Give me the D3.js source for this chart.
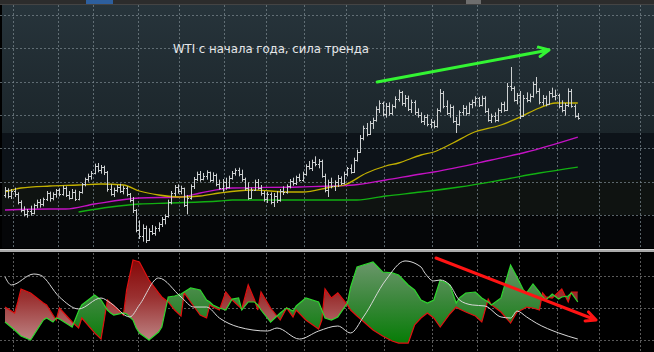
<!DOCTYPE html>
<html>
<head>
<meta charset="utf-8">
<script src="https://cdn.jsdelivr.net/npm/d3@7"></script>
<style>
  html, body { margin: 0; padding: 0; background: #000; overflow: hidden; }
  svg { display: block; }
</style>
</head>
<body>
<div id="chart"></div>
<script>
// daily OHLC, bar index 0..179
const opens = [
  93.0, 93.8, 92.9, 93.6, 93.1, 91.9, 90.7, 90.2, 90.6, 90.3,
  91.5, 92.0, 91.6, 92.4, 93.3, 92.5, 93.1, 93.7, 93.2, 94.1,
  93.0, 92.6, 93.5, 92.4, 93.4, 94.6, 95.4, 95.8, 96.3, 97.4,
  96.7, 97.2, 96.4, 93.9, 93.2, 93.8, 94.2, 93.6, 94.0, 93.1,
  92.2, 90.7, 87.8, 86.9, 88.1, 86.3, 87.6, 87.3, 88.0, 88.6,
  89.4, 89.8, 91.9, 93.3, 94.2, 93.6, 94.0, 91.5, 92.6, 94.3,
  95.4, 96.1, 95.4, 95.9, 96.4, 95.3, 96.0, 94.7, 94.1, 95.0,
  94.2, 95.6, 96.3, 96.7, 96.1, 95.4, 94.0, 92.6, 93.8, 95.0,
  94.1, 93.3, 92.4, 93.1, 91.9, 92.9, 92.2, 93.6, 93.4, 94.3,
  95.1, 94.8, 95.7, 95.3, 96.2, 97.3, 97.0, 98.0, 97.6, 98.1,
  95.9, 93.8, 95.0, 94.3, 94.9, 95.6, 94.8, 96.2, 97.0, 96.5,
  98.3, 99.5, 101.6, 103.1, 102.2, 103.8, 104.2, 105.9, 106.8, 105.2,
  106.4, 105.3, 106.3, 107.4, 108.4, 106.8, 107.6, 105.9, 106.9, 105.4,
  105.0, 104.1, 104.7, 103.6, 104.0, 103.3, 105.7, 108.3, 106.4, 105.3,
  106.2, 104.1, 103.7, 105.4, 106.1, 105.3, 106.6, 106.9, 107.5, 106.5,
  107.6, 105.6, 104.3, 104.9, 104.2, 105.7, 106.6, 105.8, 109.4, 109.0,
  107.3, 108.0, 104.9, 107.6, 107.2, 107.9, 109.7, 108.6, 106.9, 107.6,
  106.7, 108.3, 107.9, 108.0, 106.4, 105.8, 106.5, 108.6, 106.4, 104.9
];
const highs = [
  94.2, 94.0, 93.9, 94.1, 93.4, 92.2, 91.3, 90.9, 91.4, 91.7,
  92.3, 92.4, 92.6, 93.6, 93.5, 93.4, 93.9, 94.0, 94.4, 94.3,
  93.6, 93.9, 93.8, 93.6, 94.8, 95.6, 96.2, 96.6, 97.7, 97.8,
  97.5, 97.4, 96.6, 94.6, 94.1, 94.5, 94.7, 94.4, 94.3, 93.3,
  92.7, 90.9, 89.2, 88.6, 88.4, 88.0, 88.5, 88.3, 88.9, 89.7,
  90.1, 92.3, 93.6, 94.5, 94.6, 94.4, 94.1, 93.0, 94.6, 95.7,
  96.5, 96.6, 96.3, 96.7, 96.5, 96.4, 96.2, 95.3, 95.4, 95.6,
  95.9, 96.6, 97.0, 97.1, 96.8, 95.6, 94.9, 94.1, 95.3, 95.4,
  94.5, 93.6, 93.5, 93.4, 93.3, 93.6, 93.9, 94.3, 94.6, 95.4,
  95.6, 95.9, 96.2, 96.5, 97.6, 98.1, 98.3, 98.8, 98.4, 98.3,
  96.2, 95.3, 95.6, 95.2, 96.0, 95.8, 96.5, 97.2, 97.6, 98.6,
  99.8, 102.0, 103.4, 103.8, 104.1, 104.6, 106.3, 107.2, 107.0, 106.8,
  106.9, 106.6, 107.8, 108.8, 108.6, 108.0, 107.9, 107.3, 107.2, 106.0,
  105.4, 105.0, 105.1, 104.4, 104.2, 106.0, 108.9, 108.6, 107.2, 106.6,
  106.4, 104.7, 105.7, 106.5, 106.4, 106.9, 107.3, 107.8, 107.7, 107.9,
  107.8, 106.0, 105.2, 105.4, 106.0, 106.9, 107.0, 109.8, 112.2, 109.3,
  108.3, 108.6, 108.0, 108.4, 108.2, 110.0, 110.7, 109.0, 108.0, 107.9,
  108.6, 109.1, 108.8, 108.2, 107.2, 106.8, 109.0, 108.9, 106.6, 105.3
];
const lows = [
  92.6, 92.5, 92.4, 92.7, 91.6, 90.4, 89.8, 89.6, 89.9, 90.1,
  91.0, 91.1, 91.3, 92.1, 92.0, 92.2, 92.6, 92.8, 92.9, 92.7,
  92.3, 92.4, 92.1, 92.2, 93.2, 94.3, 95.0, 95.3, 96.1, 96.4,
  96.2, 96.0, 93.5, 92.9, 92.7, 93.4, 93.3, 93.1, 92.8, 91.9,
  90.3, 87.4, 86.4, 86.0, 85.8, 86.1, 87.0, 86.9, 87.5, 88.2,
  88.6, 89.6, 91.6, 92.8, 93.2, 93.1, 91.2, 90.1, 92.3, 93.9,
  95.1, 95.0, 95.2, 95.3, 94.9, 95.0, 94.3, 93.8, 93.5, 93.8,
  94.0, 95.3, 95.9, 95.8, 95.0, 93.7, 92.3, 92.4, 93.6, 93.8,
  92.9, 92.0, 91.8, 91.6, 91.2, 91.8, 92.0, 93.0, 93.2, 94.0,
  94.4, 94.5, 95.0, 95.0, 95.9, 96.8, 96.6, 97.3, 97.0, 95.6,
  93.4, 92.7, 94.0, 93.6, 94.2, 94.5, 94.6, 95.8, 96.2, 96.3,
  98.0, 99.3, 101.2, 101.8, 102.0, 102.9, 104.0, 105.3, 104.8, 104.6,
  104.9, 105.0, 106.0, 107.0, 106.4, 106.2, 105.6, 105.3, 105.0, 104.6,
  103.8, 103.5, 103.3, 103.0, 103.0, 103.1, 105.4, 106.0, 105.0, 104.6,
  103.8, 102.3, 103.4, 104.9, 104.9, 105.1, 106.0, 106.3, 106.2, 106.3,
  105.3, 104.0, 103.8, 103.9, 104.0, 105.3, 105.5, 105.6, 108.6, 107.0,
  106.6, 104.4, 104.7, 106.9, 106.9, 107.6, 108.2, 106.6, 106.4, 106.3,
  106.5, 107.6, 107.2, 106.0, 105.4, 104.9, 106.2, 106.1, 104.6, 104.3
];
const closes = [
  93.8, 92.9, 93.6, 93.1, 91.9, 90.7, 90.2, 90.6, 90.3, 91.5,
  92.0, 91.6, 92.4, 93.3, 92.5, 93.1, 93.7, 93.2, 94.1, 93.0,
  92.6, 93.5, 92.4, 93.4, 94.6, 95.4, 95.8, 96.3, 97.4, 96.7,
  97.2, 96.4, 93.9, 93.2, 93.8, 94.2, 93.6, 94.0, 93.1, 92.2,
  90.7, 87.8, 86.9, 88.1, 86.3, 87.6, 87.3, 88.0, 88.6, 89.4,
  89.8, 91.9, 93.3, 94.2, 93.6, 94.0, 91.5, 92.6, 94.3, 95.4,
  96.1, 95.4, 95.9, 96.4, 95.3, 96.0, 94.7, 94.1, 95.0, 94.2,
  95.6, 96.3, 96.7, 96.1, 95.4, 94.0, 92.6, 93.8, 95.0, 94.1,
  93.3, 92.4, 93.1, 91.9, 92.9, 92.2, 93.6, 93.4, 94.3, 95.1,
  94.8, 95.7, 95.3, 96.2, 97.3, 97.0, 98.0, 97.6, 98.1, 95.9,
  93.8, 95.0, 94.3, 94.9, 95.6, 94.8, 96.2, 97.0, 96.5, 98.3,
  99.5, 101.6, 103.1, 102.2, 103.8, 104.2, 105.9, 106.8, 105.2, 106.4,
  105.3, 106.3, 107.4, 108.4, 106.8, 107.6, 105.9, 106.9, 105.4, 105.0,
  104.1, 104.7, 103.6, 104.0, 103.3, 105.7, 108.3, 106.4, 105.3, 106.2,
  104.1, 103.7, 105.4, 106.1, 105.3, 106.6, 106.9, 107.5, 106.5, 107.6,
  105.6, 104.3, 104.9, 104.2, 105.7, 106.6, 105.8, 109.4, 109.0, 107.3,
  108.0, 104.9, 107.6, 107.2, 107.9, 109.7, 108.6, 106.9, 107.6, 106.7,
  108.3, 107.9, 108.0, 106.4, 105.8, 106.5, 108.6, 106.4, 104.9, 104.6
];

// moving averages, read at bar indices
const maShortIdx = [0, 5, 14, 23, 30, 37, 42, 48, 55, 61, 67, 77, 89, 93, 102, 106, 113, 119, 123, 130, 134, 140, 146, 155, 161, 167, 172, 179];
const maShort    = [93.45, 94.05, 94.35, 94.5, 94.65, 94.5, 93.6, 93.0, 92.7, 92.85, 93.3, 93.75, 93.45, 93.45, 94.2, 94.5, 96.3, 97.35, 97.8, 99.0, 99.45, 100.8, 102.3, 103.5, 104.7, 106.05, 106.8, 106.8];
const maMidIdx = [0, 14, 19, 28, 42, 55, 61, 71, 92, 109, 119, 130, 134, 152, 163, 179];
const maMid    = [90.75, 90.9, 90.9, 91.65, 92.55, 92.7, 93.3, 94.05, 94.2, 94.5, 95.25, 96.15, 96.45, 98.25, 99.45, 101.7];
const maLongIdx = [23, 33, 42, 51, 67, 71, 110, 119, 130, 142, 155, 167, 179];
const maLong    = [90.45, 91.2, 91.65, 91.8, 92.1, 92.25, 92.25, 92.85, 93.45, 94.2, 95.25, 96.3, 97.2];

// directional movement: +DI, -DI at shared indices, ADX separately
const dmiIdx  = [0, 3, 4, 5, 8, 12, 13, 15, 16, 17, 21, 23, 24, 28, 30, 31, 32, 33, 34, 37, 38, 40, 41, 42, 45, 48, 49, 51, 53, 55, 56, 58, 61, 63, 64, 65, 67, 69, 71, 73, 74, 76, 78, 79, 80, 83, 86, 88, 90, 91, 94, 98, 99, 100, 102, 104, 107, 108, 110, 115, 118, 121, 123, 126, 128, 130, 132, 134, 136, 139, 141, 142, 144, 147, 149, 151, 152, 155, 158, 160, 162, 163, 165, 167, 168, 169, 171, 173, 174, 176, 177, 179];
const plusDI  = [21.25, 16.25, 14.4, 12.5, 10.0, 22.5, 23.75, 21.25, 23.75, 23.1, 18.1, 28.1, 31.9, 38.1, 35.0, 31.9, 28.75, 26.9, 25.6, 26.9, 26.25, 22.5, 17.5, 14.4, 10.0, 15.0, 18.1, 36.9, 37.5, 38.75, 40.0, 42.5, 41.25, 35.0, 33.75, 31.9, 30.0, 28.75, 35.6, 36.25, 28.75, 33.75, 33.75, 31.9, 28.75, 21.25, 26.9, 30.0, 28.1, 31.25, 36.25, 33.75, 28.75, 23.75, 22.5, 24.4, 33.1, 43.1, 55.6, 58.75, 52.5, 51.9, 50.6, 44.4, 41.25, 35.0, 33.1, 35.0, 47.5, 44.4, 33.1, 36.25, 39.4, 40.0, 36.25, 33.75, 31.9, 36.25, 56.9, 49.4, 41.25, 39.4, 45.0, 40.0, 36.9, 35.0, 38.75, 35.6, 36.9, 37.5, 39.4, 33.75];
const minusDI = [30.6, 26.9, 33.75, 41.9, 39.4, 33.1, 31.9, 25.6, 22.5, 30.0, 21.25, 17.5, 23.75, 14.4, 10.6, 22.5, 35.0, 33.1, 31.25, 25.6, 41.25, 60.0, 59.4, 58.75, 47.5, 39.4, 36.9, 33.75, 28.75, 25.0, 39.4, 33.75, 25.6, 23.75, 31.9, 30.6, 28.75, 40.0, 35.0, 31.25, 29.4, 44.4, 35.0, 28.75, 40.0, 30.0, 22.5, 30.0, 24.4, 28.75, 22.5, 16.9, 22.5, 41.9, 36.25, 39.4, 31.9, 28.75, 25.0, 16.25, 12.5, 9.4, 8.1, 8.1, 19.4, 23.75, 26.9, 23.75, 18.1, 26.25, 30.6, 29.4, 27.5, 25.0, 21.25, 35.6, 31.9, 27.5, 20.6, 27.5, 29.4, 30.6, 30.0, 28.75, 39.4, 36.9, 36.25, 40.0, 41.9, 33.75, 40.0, 40.0];
const adxIdx = [0, 2, 9, 11, 17, 23, 30, 33, 39, 42, 48, 55, 59, 63, 67, 73, 82, 85, 92, 98, 104, 108, 112, 119, 125, 130, 131, 134, 136, 139, 142, 146, 150, 155, 158, 160, 163, 166, 173, 179];
const adx    = [49.4, 44.4, 51.25, 50.6, 36.9, 29.4, 36.25, 33.1, 24.4, 31.9, 48.75, 36.9, 30.6, 30.6, 23.75, 18.1, 15.6, 17.5, 10.6, 15.6, 18.75, 14.4, 24.4, 47.5, 59.4, 55.6, 52.5, 46.9, 47.5, 44.4, 35.0, 31.9, 31.25, 24.4, 23.75, 28.1, 24.4, 20.6, 14.4, 10.6];

// grid positions (bar index) and levels
const gridIdx = [2.5, 16.5, 27.5, 41.5, 54.5, 68.5, 81.5, 93.5, 106.5, 118.5, 133.5, 147.5, 160.5, 172.5, 185.5, 198.5];
const priceGrid = [90, 95, 100, 105, 110, 115, 120];
const dmiGrid = [10, 30, 50];

// annotation arrows: [index, value] start / end
const upArrow = [[116.3, 109.95], [170, 114.75]];
const downArrow = [[134.7, 61.25], [184.7, 22.5]];
const title = "WTI с начала года, сила тренда";

const W = 654, H = 352;
const top0 = 4, top1 = 248, bot0 = 253, bot1 = 352;

const svg = d3.select("#chart").append("svg")
  .attr("width", W).attr("height", H);

const defs = svg.append("defs");
const grad = (id, y1, y2, stops) => {
  const lg = defs.append("linearGradient").attr("id", id)
    .attr("gradientUnits", "userSpaceOnUse")
    .attr("x1", 0).attr("x2", 0).attr("y1", y1).attr("y2", y2);
  stops.forEach(([o, c]) => lg.append("stop").attr("offset", o).attr("stop-color", c));
};
grad("bgTop", top0, 133, [[0, "#27343b"], [1, "#1b252a"]]);
grad("redFill", 258, 345, [[0, "#850505"], [0.45, "#9a3030"], [1, "#c08c8c"]]);
grad("greenFill", 258, 345, [[0, "#6f986f"], [0.5, "#3a873a"], [1, "#047c04"]]);

// background bands
svg.append("rect").attr("width", W).attr("height", H).attr("fill", "#000");
svg.append("rect").attr("x", 0).attr("y", top0).attr("width", W).attr("height", 133 - top0).attr("fill", "url(#bgTop)");
svg.append("rect").attr("x", 0).attr("y", 133).attr("width", W).attr("height", 47).attr("fill", "#0d1319");
svg.append("rect").attr("x", 0).attr("y", 180).attr("width", W).attr("height", 35).attr("fill", "#0f1311");
svg.append("rect").attr("x", 0).attr("y", 215).attr("width", W).attr("height", top1 - 215).attr("fill", "#050608");
svg.append("rect").attr("x", 0).attr("y", top0).attr("width", 2).attr("height", top1 - top0).attr("fill", "#000");

// toolbar strip
svg.append("rect").attr("x", 0).attr("y", 0).attr("width", W).attr("height", 4).attr("fill", "#2c2c2c");
svg.append("rect").attr("x", 86).attr("y", 0).attr("width", 27).attr("height", 4).attr("fill", "#2d5f9e");
svg.append("rect").attr("x", 466).attr("y", 0).attr("width", 15).attr("height", 4).attr("fill", "#6e6e6e");
svg.append("line").attr("x1", 0).attr("x2", W).attr("y1", 4.5).attr("y2", 4.5).attr("stroke", "#444");

// scales
const x = d3.scaleLinear().domain([-1.5625, 202.8125]).range([0, W]);
const y = d3.scaleLinear().domain([85.05, 121.65]).range([top1, top0]);
const yv = d3.scaleLinear().domain([2.5, 64.375]).range([bot1, bot0]);

// grids
const grid = svg.append("g").attr("stroke-dasharray", "2,2").attr("stroke-width", 1);
grid.selectAll("line.hp").data(priceGrid).join("line").attr("class", "hp")
  .attr("x1", 0).attr("x2", W)
  .attr("y1", d => Math.round(y(d)) + 0.5).attr("y2", d => Math.round(y(d)) + 0.5)
  .attr("stroke", "#75838a").attr("stroke-opacity", 0.75);
grid.selectAll("line.hd").data(dmiGrid).join("line").attr("class", "hd")
  .attr("x1", 0).attr("x2", W)
  .attr("y1", d => Math.round(yv(d)) + 0.5).attr("y2", d => Math.round(yv(d)) + 0.5)
  .attr("stroke", "#707070").attr("stroke-opacity", 0.8);
grid.selectAll("line.vt").data(gridIdx).join("line").attr("class", "vt")
  .attr("x1", d => Math.round(x(d)) + 0.5).attr("x2", d => Math.round(x(d)) + 0.5)
  .attr("y1", top0 + 1).attr("y2", top1)
  .attr("stroke", "#75838a").attr("stroke-opacity", 0.75);
grid.selectAll("line.vb").data(gridIdx).join("line").attr("class", "vb")
  .attr("x1", d => Math.round(x(d)) + 0.5).attr("x2", d => Math.round(x(d)) + 0.5)
  .attr("y1", bot0).attr("y2", bot1)
  .attr("stroke", "#707070").attr("stroke-opacity", 0.8);

// moving averages
const maLine = d3.line().x(d => x(d[0])).y(d => y(d[1])).curve(d3.curveMonotoneX);
const mas = [
  [maLongIdx, maLong, "#12b012"],
  [maMidIdx, maMid, "#c412c4"],
  [maShortIdx, maShort, "#c2b000"]
];
mas.forEach(([idx, vals, col]) => {
  svg.append("path")
    .attr("d", maLine(idx.map((d, k) => [d, vals[k]])))
    .attr("fill", "none").attr("stroke", col).attr("stroke-width", 1.3);
});

// OHLC bars
svg.append("g").attr("stroke", "#cdd0d1").attr("stroke-width", 1).attr("fill", "none")
  .selectAll("path").data(d3.range(closes.length)).join("path")
  .attr("d", i => {
    const cx = Math.round(x(i)) + 0.5;
    const yo = Math.round(y(opens[i])) + 0.5, yc = Math.round(y(closes[i])) + 0.5;
    return `M${cx},${y(highs[i])}V${y(lows[i])}M${cx - 1.5},${yo}H${cx}M${cx},${yc}H${cx + 1.5}`;
  });

// divider between panels
svg.append("rect").attr("x", 0).attr("y", 249).attr("width", W).attr("height", 3).attr("fill", "#a9a9a9");
svg.append("line").attr("x1", 0).attr("x2", W).attr("y1", 249.5).attr("y2", 249.5).attr("stroke", "#d0d0d0");

// DMI panel
const dmi = dmiIdx.map((d, k) => ({ i: d, p: plusDI[k], m: minusDI[k] }));
const band = d3.area().x(d => x(d.i)).y0(d => yv(d.m)).y1(d => yv(d.p));
const belowP = d3.area().x(d => x(d.i)).y0(bot1 + 5).y1(d => yv(d.p));
const belowM = d3.area().x(d => x(d.i)).y0(bot1 + 5).y1(d => yv(d.m));
defs.append("clipPath").attr("id", "clipP").append("path").attr("d", belowP(dmi));
defs.append("clipPath").attr("id", "clipM").append("path").attr("d", belowM(dmi));

svg.append("path").attr("d", band(dmi)).attr("fill", "url(#greenFill)").attr("clip-path", "url(#clipP)");
svg.append("path").attr("d", band(dmi)).attr("fill", "url(#redFill)").attr("clip-path", "url(#clipM)");

svg.append("path").attr("d", d3.line().x(d => x(d.i)).y(d => yv(d.m))(dmi))
  .attr("fill", "none").attr("stroke", "#e01010").attr("stroke-width", 1.2);
svg.append("path").attr("d", d3.line().x(d => x(d.i)).y(d => yv(d.p))(dmi))
  .attr("fill", "none").attr("stroke", "#2ed62e").attr("stroke-width", 1.2);
svg.append("path")
  .attr("d", d3.line().x(d => x(d[0])).y(d => yv(d[1])).curve(d3.curveMonotoneX)(adxIdx.map((d, k) => [d, adx[k]])))
  .attr("fill", "none").attr("stroke", "#d8d8d8").attr("stroke-width", 1);

// annotation arrows
const arrow = (pts, sy, col) => {
  const [x1, y1] = [x(pts[0][0]), sy(pts[0][1])];
  const [x2, y2] = [x(pts[1][0]), sy(pts[1][1])];
  const a = Math.atan2(y2 - y1, x2 - x1), L = 11, s = 0.45;
  const h1 = [x2 - L * Math.cos(a - s), y2 - L * Math.sin(a - s)];
  const h2 = [x2 - L * Math.cos(a + s), y2 - L * Math.sin(a + s)];
  svg.append("path")
    .attr("d", `M${x1},${y1}L${x2},${y2}M${h1[0]},${h1[1]}L${x2},${y2}L${h2[0]},${h2[1]}`)
    .attr("fill", "none").attr("stroke", col).attr("stroke-width", 3)
    .attr("stroke-linecap", "round").attr("stroke-linejoin", "round");
};
arrow(upArrow, y, "#33f433");
arrow(downArrow, yv, "#ff1414");

svg.append("text")
  .attr("x", 173).attr("y", 53)
  .attr("fill", "#e6e8ea")
  .attr("font-family", "'DejaVu Sans Condensed', 'DejaVu Sans', sans-serif")
  .attr("font-size", 13)
  .text(title);
</script>
</body>
</html>
